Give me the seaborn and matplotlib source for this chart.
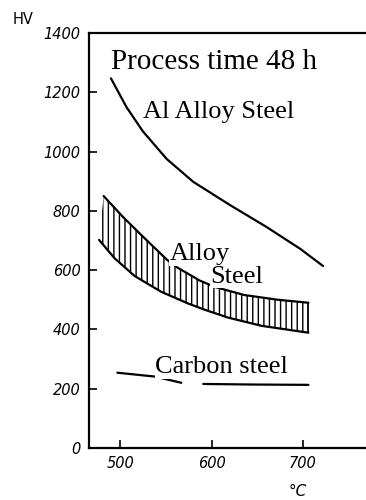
import matplotlib
matplotlib.use("Agg")
import matplotlib.pyplot as plt
import seaborn as sns
import pandas as pd
import numpy as np

# ---- data ----
al_T = [490, 507, 525, 551, 580, 620, 660, 697, 722]
al_HV = [1247, 1150, 1068, 975, 898, 820, 746, 672, 614]

upper_T = [482, 503, 525, 551, 562, 587, 604, 636, 673, 706]
upper_HV = [850, 780, 713, 636, 610, 565, 543, 516, 500, 490]

lower_T = [477, 494, 516, 545, 574, 593, 618, 655, 706]
lower_HV = [702, 640, 580, 527, 488, 466, 440, 412, 389]

carbon_T = [497, 538, 567, 591, 650, 706]
carbon_HV = [254, 241, 220, 216, 214, 213]
carbon_seg = [0, 0, 0, 1, 1, 1]

x_ticks = [500, 600, 700]
y_ticks = [0, 200, 400, 600, 800, 1000, 1200, 1400]

sns.set_style("ticks")
plt.rcParams['font.family'] = ['DejaVu Sans']
plt.rcParams['text.color'] = 'black'
plt.rcParams['xtick.color'] = 'black'
plt.rcParams['ytick.color'] = 'black'
plt.rcParams['hatch.linewidth'] = 1.0

fig = plt.figure(figsize=(3.66, 5.0), dpi=100)
ax = fig.add_axes([89/366, 1-448/500, 1-89/366, (448-33)/500])

df_al = pd.DataFrame({"T": al_T, "HV": al_HV})
df_up = pd.DataFrame({"T": upper_T, "HV": upper_HV})
df_lo = pd.DataFrame({"T": lower_T, "HV": lower_HV})
df_c = pd.DataFrame({"T": carbon_T, "HV": carbon_HV, "seg": carbon_seg})

# hatched band between the two alloy-steel curves
ax.fill(list(upper_T) + list(lower_T[::-1]), list(upper_HV) + list(lower_HV[::-1]),
        facecolor='white', edgecolor='black', hatch='|||', linewidth=0)
ax.vlines(upper_T[-1], lower_HV[-1], upper_HV[-1], color='black', lw=1.2)

for d in (df_al, df_up, df_lo):
    sns.lineplot(data=d, x="T", y="HV", ax=ax, color='black', lw=1.6,
                 estimator=None, sort=False)
sns.lineplot(data=df_c, x="T", y="HV", units="seg", ax=ax, color='black', lw=1.6,
             estimator=None, sort=False)

ax.set_xlim(466, 769)
ax.set_ylim(0, 1400)
ax.set_xticks(x_ticks)
ax.set_yticks(y_ticks)
ax.set_xticklabels([str(v) for v in x_ticks], fontstyle='italic', fontsize=10.5)
ax.set_yticklabels([str(v) for v in y_ticks], fontstyle='italic', fontsize=10.5)
ax.tick_params(axis='both', direction='in', length=6, width=1.2, pad=6)
ax.set_xlabel("")
ax.set_ylabel("")
for s in ('left', 'top', 'bottom'):
    ax.spines[s].set_linewidth(1.6)
    ax.spines[s].set_color('black')
ax.spines['right'].set_visible(False)

serif = ['Liberation Serif', 'DejaVu Serif']
ax.text(0.08, 0.93, "Process time 48 h", transform=ax.transAxes, fontsize=21,
        family=serif, va='center', ha='left')
ax.text(0.195, 0.81, "Al Alloy Steel", transform=ax.transAxes, fontsize=19,
        family=serif, va='center', ha='left')
ax.text(0.292, 0.468, "Alloy", transform=ax.transAxes, fontsize=19,
        family=serif, va='center', ha='left',
        bbox=dict(facecolor='white', edgecolor='none', pad=0.5))
ax.text(0.438, 0.413, "Steel", transform=ax.transAxes, fontsize=19,
        family=serif, va='center', ha='left',
        bbox=dict(facecolor='white', edgecolor='none', pad=0.5))
ax.text(0.24, 0.195, "Carbon steel", transform=ax.transAxes, fontsize=19,
        family=serif, va='center', ha='left',
        bbox=dict(facecolor='white', edgecolor='none', pad=0.5))

fig.text(13/366, 1-20/500, "HV", fontsize=10.5, va='center', ha='left')
fig.text(298/366, 1-491/500, "°C", fontsize=11, fontstyle='italic', va='center', ha='center')

fig.savefig("out.png", dpi=100)
